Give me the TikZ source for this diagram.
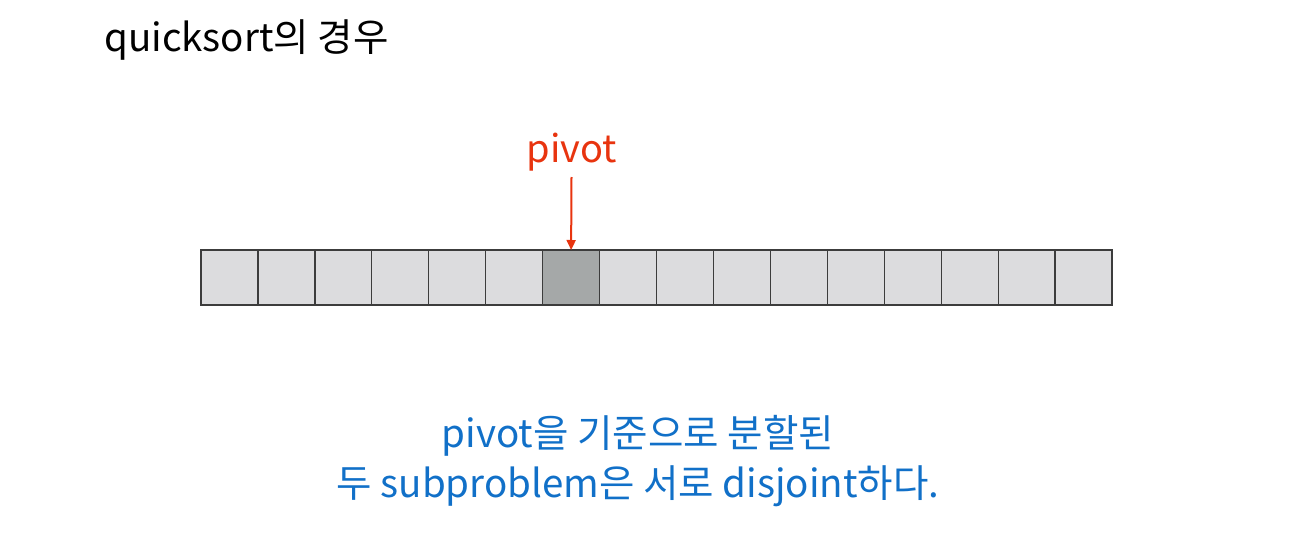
\documentclass[tikz,border=0pt]{standalone}
\usepackage{fontspec}
\setmainfont{Noto Sans CJK KR}
\usetikzlibrary{arrows.meta}
\definecolor{cellfill}{HTML}{DCDCDE}
\definecolor{pivfill}{HTML}{A5A8A8}
\definecolor{cellline}{HTML}{3C3C3C}
\definecolor{pivred}{HTML}{E8340F}
\definecolor{msgblue}{HTML}{1170C8}
\tikzset{
  cell/.style={draw=cellline, fill=cellfill, line width=1.3pt, minimum width=56.94pt, minimum height=55pt, inner sep=0pt, outer sep=0pt, anchor=north west},
  pivcell/.style={cell, fill=pivfill},
  title/.style={font=\fontsize{38.5}{44}\selectfont, anchor=base west, inner sep=0pt},
  pivlabel/.style={font=\fontsize{38}{44}\selectfont, text=pivred, anchor=base, inner sep=0pt},
  msg/.style={font=\fontsize{38.5}{44}\selectfont, text=msgblue, anchor=base, inner sep=0pt},
  pivarrow/.style={draw=pivred, line width=2pt, -{Triangle[length=10pt,width=9pt]}}
}
\begin{document}
\begin{tikzpicture}[x=1pt,y=-1pt]
\useasboundingbox (0,0) rectangle (1312,535);
\node[title] (title) at (104,52) {quicksort의 경우};
\foreach \i in {0,...,15}{
  \ifnum\i=6
    \node[pivcell] (c\i) at ({201+\i*56.94},250) {};
  \else
    \node[cell] (c\i) at ({201+\i*56.94},250) {};
  \fi
}
\node[pivlabel] (piv) at (572,162) {pivot};
\coordinate (astart) at (571.5,177);
\draw[pivarrow] (astart) -- (c6.north);
\node[msg] (m1) at (638,447) {pivot을 기준으로 분할된};
\node[msg] (m2) at (638,497) {두 subproblem은 서로 disjoint하다.};
\end{tikzpicture}
\end{document}
